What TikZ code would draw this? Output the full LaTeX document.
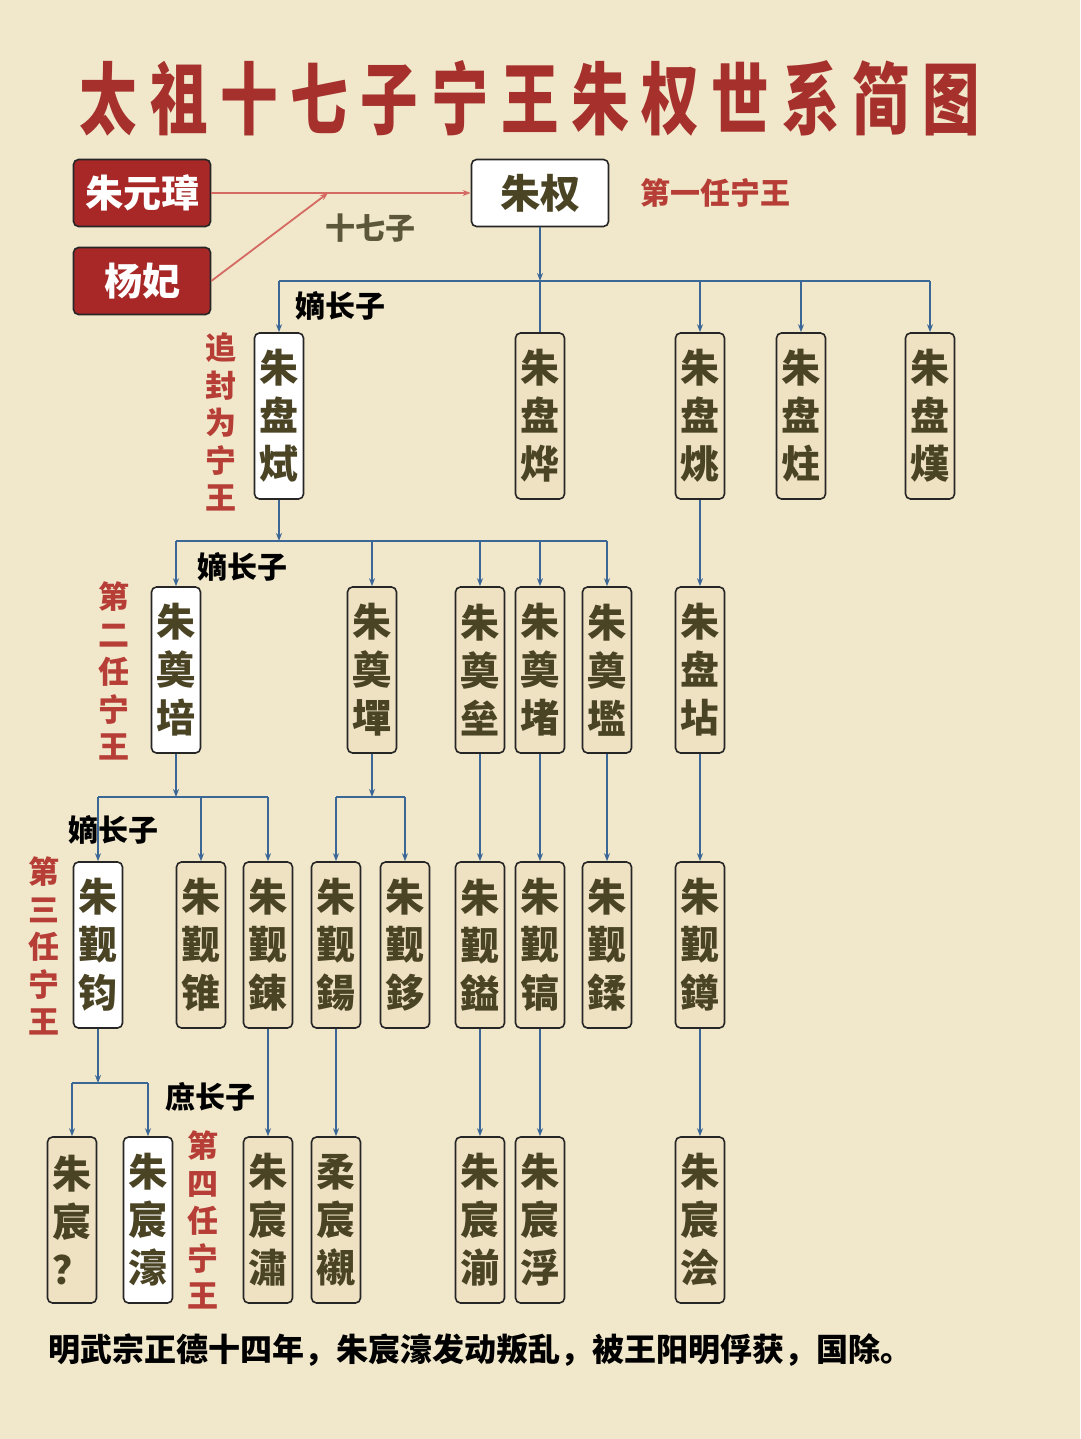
\documentclass[tikz,border=0pt]{standalone}
\usepackage{fontspec}
\setmainfont{Noto Sans CJK SC}
\usetikzlibrary{arrows.meta}
\definecolor{bg}{HTML}{F1E7CB}
\definecolor{boxfill}{HTML}{EEE2C3}
\definecolor{ink}{HTML}{4A4424}
\definecolor{redlab}{HTML}{B63E36}
\definecolor{titlered}{HTML}{A5302C}
\definecolor{bluel}{HTML}{3B6796}
\definecolor{redbox}{HTML}{A82828}
\definecolor{redline}{HTML}{D46A62}
\begin{document}
\begin{tikzpicture}[x=1pt,y=-1pt,
  person/.style={draw=black!85, line width=1.6pt, rounded corners=5pt, fill=boxfill, text=ink,
     font=\bfseries\fontsize{39}{48}\selectfont, minimum width=49pt, minimum height=166pt,
     inner sep=0pt, align=center},
  heir/.style={person, fill=white},
  topbox/.style={draw=black!85, line width=1.6pt, rounded corners=5pt, minimum width=137pt,
     minimum height=67pt, inner sep=0pt, font=\bfseries\fontsize{38}{38}\selectfont},
  link/.style={draw=bluel, line width=1.8pt},
  redl/.style={draw=redline, line width=1.8pt},
  arr/.style={-{Stealth[length=8pt,width=6pt]}},
  ann/.style={font=\bfseries\fontsize{30}{30}\selectfont, text=black, inner sep=0pt},
  vlab/.style={text=redlab, font=\bfseries\fontsize{31}{37.5}\selectfont, align=center, inner sep=0pt}
]
\fill[bg] (0,0) rectangle (1080,1439);
\useasboundingbox (0,0) rectangle (1080,1439);

% title
\node[text=titlered, inner sep=0pt] (title) at (530,98)
  {\resizebox{900pt}{68pt}{\bfseries\fontsize{72}{72}\selectfont\addfontfeature{LetterSpace=22}太祖十七子宁王朱权世系简图}};

% top
\node[topbox, fill=redbox, text=white] (zyz) at (142,193) {朱元璋};
\node[topbox, fill=redbox, text=white] (yf) at (142,281) {杨妃};
\node[topbox, fill=white, text=ink, font=\bfseries\fontsize{40}{40}\selectfont] (quan) at (540,193) {朱权};
\coordinate (j) at (328,193);
\draw[redl,arr] (zyz.east) -- (quan.west);
\draw[redl,arr] (yf.east) -- (j);
\node[text=ink!90, font=\bfseries\fontsize{30}{30}\selectfont] (s17) at (370,228) {十七子};
\node[text=redlab, font=\bfseries\fontsize{30}{30}\selectfont] (l1) at (715,193) {第一任宁王};

% row 1
\node[heir]   (p1) at (279,416) {朱\\盘\\烒};
\node[person] (p2) at (540,416) {朱\\盘\\烨};
\node[person] (p3) at (700,416) {朱\\盘\\烑};
\node[person] (p4) at (801,416) {朱\\盘\\炷};
\node[person] (p5) at (930,416) {朱\\盘\\熯};
\node[ann] (a1) at (340,306) {嫡长子};
\node[vlab] (v1) at (221,422) {追\\封\\为\\宁\\王};

\coordinate (b1) at (540,281);
\draw[link,arr] (quan.south) -- (b1);
\draw[link] (p1.north |- b1) -- (p5.north |- b1);
\draw[link] (b1) -- (p2.north);
\foreach \n in {p1,p3,p4,p5} \draw[link,arr] (\n.north |- b1) -- (\n.north);

% row 2
\node[heir]   (g1) at (176,670) {朱\\奠\\培};
\node[person] (g2) at (372,670) {朱\\奠\\墠};
\node[person] (g3) at (480,670) {朱\\奠\\垒};
\node[person] (g4) at (540,670) {朱\\奠\\堵};
\node[person] (g5) at (607,670) {朱\\奠\\壏};
\node[person] (g6) at (700,670) {朱\\盘\\坫};
\node[ann] (a2) at (242,567) {嫡长子};
\node[vlab] (v2) at (114,671) {第\\二\\任\\宁\\王};

\coordinate (b2) at (279,541);
\draw[link,arr] (p1.south) -- (b2);
\draw[link] (g1.north |- b2) -- (g5.north |- b2);
\foreach \n in {g1,g2,g3,g4,g5} \draw[link,arr] (\n.north |- b2) -- (\n.north);
\draw[link,arr] (p3.south) -- (g6.north);

% row 3
\node[heir]   (h1) at (98,945)  {朱\\觐\\钧};
\node[person] (h2) at (201,945) {朱\\觐\\锥};
\node[person] (h3) at (268,945) {朱\\觐\\錬};
\node[person] (h4) at (336,945) {朱\\觐\\鍚};
\node[person] (h5) at (405,945) {朱\\觐\\鉹};
\node[person] (h6) at (480,945) {朱\\觐\\鎰};
\node[person] (h7) at (540,945) {朱\\觐\\镐};
\node[person] (h8) at (607,945) {朱\\觐\\鍒};
\node[person] (h9) at (700,945) {朱\\觐\\鐏};
\node[ann] (a3) at (113,830) {嫡长子};
\node[vlab] (v3) at (44,946) {第\\三\\任\\宁\\王};

\coordinate (b3) at (176,797);
\draw[link,arr] (g1.south) -- (b3);
\draw[link] (h1.north |- b3) -- (h3.north |- b3);
\foreach \n in {h1,h2,h3} \draw[link,arr] (\n.north |- b3) -- (\n.north);
\coordinate (b4) at (372,797);
\draw[link,arr] (g2.south) -- (b4);
\draw[link] (h4.north |- b4) -- (h5.north |- b4);
\foreach \n in {h4,h5} \draw[link,arr] (\n.north |- b4) -- (\n.north);
\draw[link,arr] (g3.south) -- (h6.north);
\draw[link,arr] (g4.south) -- (h7.north);
\draw[link,arr] (g5.south) -- (h8.north);
\draw[link,arr] (g6.south) -- (h9.north);

% row 4
\node[person] (k1) at (72,1220)  {朱\\宸\\？};
\node[heir]   (k2) at (148,1220) {朱\\宸\\濠};
\node[person] (k3) at (268,1220) {朱\\宸\\潚};
\node[person] (k4) at (336,1220) {柔\\宸\\襯};
\node[person] (k5) at (480,1220) {朱\\宸\\湔};
\node[person] (k6) at (540,1220) {朱\\宸\\浮};
\node[person] (k7) at (700,1220) {朱\\宸\\浍};
\node[ann] (a4) at (210,1097) {庶长子};
\node[vlab] (v4) at (203,1220) {第\\四\\任\\宁\\王};

\coordinate (b5) at (98,1083);
\draw[link,arr] (h1.south) -- (b5);
\draw[link] (k1.north |- b5) -- (k2.north |- b5);
\foreach \n in {k1,k2} \draw[link,arr] (\n.north |- b5) -- (\n.north);
\draw[link,arr] (h3.south) -- (k3.north);
\draw[link,arr] (h4.south) -- (k4.north);
\draw[link,arr] (h6.south) -- (k5.north);
\draw[link,arr] (h7.south) -- (k6.north);
\draw[link,arr] (h9.south) -- (k7.north);

% bottom note
\node[font=\bfseries\fontsize{32}{32}\selectfont, text=black, inner sep=0pt] (note) at (480,1350)
  {明武宗正德十四年，朱宸濠发动叛乱，被王阳明俘获，国除。};
\end{tikzpicture}
\end{document}
